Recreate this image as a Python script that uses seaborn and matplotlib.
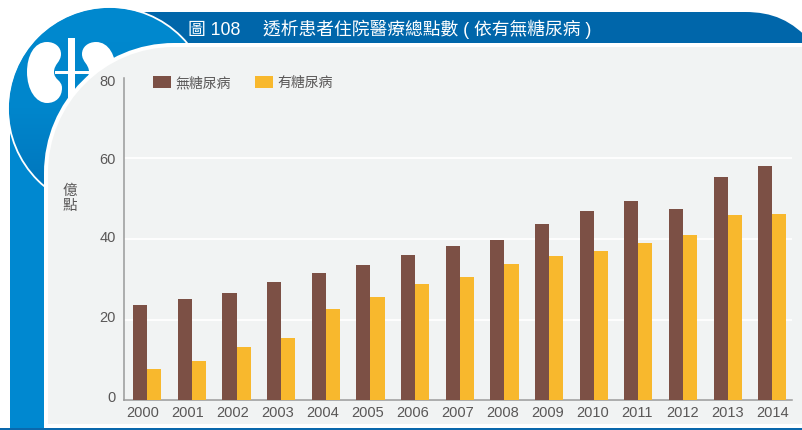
import numpy as np
import pandas as pd
import matplotlib
matplotlib.use('Agg')
import matplotlib.pyplot as plt
import seaborn as sns
from matplotlib.colors import LinearSegmentedColormap
from matplotlib.patches import Circle, PathPatch, Rectangle
from matplotlib.path import Path
from matplotlib.transforms import ScaledTranslation

anios = ['2000', '2001', '2002', '2003', '2004', '2005', '2006', '2007',
         '2008', '2009', '2010', '2011', '2012', '2013', '2014']
sin_diabetes = [23.6, 25.1, 26.6, 29.3, 31.6, 33.5, 36.0, 38.3,
                39.8, 43.7, 47.0, 49.4, 47.5, 55.4, 58.1]
con_diabetes = [7.7, 9.7, 13.2, 15.4, 22.6, 25.6, 28.8, 30.6,
                33.8, 35.8, 37.0, 39.0, 41.0, 46.0, 46.2]
y_ticks = [0, 20, 40, 60, 80]
titulo = '圖 108　 透析患者住院醫療總點數 ( 依有無糖尿病 )'
y_label = '億\n點'
serie_1 = '無糖尿病'
serie_2 = '有糖尿病'

CAFE = '#7c5045'
AMARILLO = '#f8b82d'
GRIS = '#f1f3f3'
TEXTO = '#595757'
AZUL = '#0088d0'
AZUL_OSCURO = '#0066aa'

sns.set_theme(style='white')
plt.rcParams['font.family'] = ['Liberation Sans', 'Noto Sans CJK TC', 'DejaVu Sans']

W, H = 803, 430
fig = plt.figure(figsize=(W / 100, H / 100), dpi=100, facecolor='white')


def esquina(x0, y0, r, x1=803, y1=424):
    # panel con la esquina superior izquierda redondeada
    k = 0.5523 * r
    verts = [(x0, y1), (x0, y0 + r),
             (x0, y0 + r - k), (x0 + r - k, y0), (x0 + r, y0),
             (x1, y0), (x1, y1), (x0, y1)]
    codes = [Path.MOVETO, Path.LINETO, Path.CURVE4, Path.CURVE4, Path.CURVE4,
             Path.LINETO, Path.LINETO, Path.CLOSEPOLY]
    return Path(verts, codes)


def rinon(m=1, c=71.5):
    # m = -1 lo refleja al otro lado del eje central
    p = [(47, 42), (34, 42), (27, 56), (27, 72),
         (27, 90), (36, 103), (47, 103),
         (56, 103), (62, 97), (62, 88),
         (62, 80), (54, 80), (54, 72),
         (54, 64), (61, 62), (61, 54),
         (61, 47), (55, 42), (47, 42)]
    verts = [(c + m * (x - c), y) for x, y in p]
    codes = [Path.MOVETO] + [Path.CURVE4] * 18
    return Path(verts, codes)


# FONDO DECORATIVO
bg = fig.add_axes([0, 0, 1, 1], zorder=0)
bg.axis('off')

bg.add_patch(Rectangle((10, 100), 36, 328, color=AZUL, lw=0))
bg.add_patch(Rectangle((0, 428), 803, 2, color='#0a68ac', lw=0))

banner = Path([(120, 12), (745, 12), (772, 12), (792, 20), (812, 43), (120, 43), (120, 12)],
              [Path.MOVETO, Path.LINETO, Path.CURVE4, Path.CURVE4, Path.CURVE4,
               Path.LINETO, Path.CLOSEPOLY])
bg.add_patch(PathPatch(banner, color=AZUL_OSCURO, lw=0))

circulo = Circle((109.5, 108.5), 101, facecolor='none', edgecolor='none')
bg.add_patch(circulo)
degradado = LinearSegmentedColormap.from_list('azul', ['#0089cf', '#0086cc', '#0072b9'])
img = bg.imshow(np.linspace(0, 1, 200).reshape(-1, 1), cmap=degradado, aspect='auto',
                extent=(8, 211, 210, 7), zorder=2)
img.set_clip_path(circulo)
bg.add_patch(Circle((109.5, 108.5), 101.5, facecolor='none', edgecolor='white', lw=1.3, zorder=3))

bg.add_patch(PathPatch(rinon(1), color='white', lw=0, zorder=4))
bg.add_patch(PathPatch(rinon(-1), color='white', lw=0, zorder=4))
bg.add_patch(Rectangle((68, 38), 7, 70, color='white', lw=0, zorder=4))
bg.add_patch(Rectangle((55, 71), 35, 2.5, color='white', lw=0, zorder=4))

bg.add_patch(PathPatch(esquina(44, 43, 130, y1=428), color='white', lw=0, zorder=5))
bg.add_patch(PathPatch(esquina(48, 47, 126), color=GRIS, lw=0, zorder=6))

bg.set_xlim(0, W)
bg.set_ylim(H, 0)

bg.text(188, 29, titulo, color='white', fontsize=12.8, va='center', ha='left', zorder=7)

# GRAFICA
ax = fig.add_axes([124 / W, (H - 400) / H, 668 / W, 322 / H], zorder=1)
ax.patch.set_visible(False)

datos = pd.DataFrame({
    'anio': anios * 2,
    'valor': sin_diabetes + con_diabetes,
    'grupo': [serie_1] * len(anios) + [serie_2] * len(anios),
})
sns.barplot(data=datos, x='anio', y='valor', hue='grupo', ax=ax, width=0.63, gap=0,
            palette=[CAFE, AMARILLO], saturation=1, linewidth=0, legend=True, zorder=3)

ax.set_xlim(-0.52, 14.44)
ax.set_ylim(0, 80)
ax.set_yticks(y_ticks)
ax.set_xlabel('')
ax.set_ylabel(y_label, rotation=0, color=TEXTO, fontsize=10.5, linespacing=1.05, va='center', ha='center')
ax.yaxis.set_label_coords((69.5 - 124) / 668, (400 - 198.5) / 322)

ax.grid(axis='y', color='white', lw=1.3, zorder=1)
ax.yaxis.get_gridlines()[-1].set_visible(False)
ax.set_axisbelow(True)

ax.tick_params(axis='both', length=0, labelsize=10.5, labelcolor=TEXTO)
ax.tick_params(axis='y', pad=6)
ax.tick_params(axis='x', pad=4.5)
for lado in ['top', 'right']:
    ax.spines[lado].set_visible(False)
for lado in ['left', 'bottom']:
    ax.spines[lado].set_color('#999999')
    ax.spines[lado].set_linewidth(1.1)

# las etiquetas del original no estan centradas exactas con las barras
n = len(anios)
for i, lab in enumerate(ax.get_xticklabels()):
    lab.set_transform(lab.get_transform() + ScaledTranslation(-4.5 * (n - 1 - i) / (n - 1) / 100, 0, fig.dpi_scale_trans))
for lab, dy in zip(ax.get_yticklabels(), [4, 3.5, 2, 0, -3]):
    lab.set_transform(lab.get_transform() + ScaledTranslation(0, dy / 100, fig.dpi_scale_trans))

ax.legend(loc='upper left', bbox_to_anchor=((153 - 124) / 668, 1.006), ncol=2, frameon=False,
          title=None, fontsize=10, labelcolor=TEXTO, handlelength=1.3, handleheight=0.95,
          handletextpad=0.3, columnspacing=1.73, borderpad=0, borderaxespad=0)

fig.savefig('out.png', dpi=100)
